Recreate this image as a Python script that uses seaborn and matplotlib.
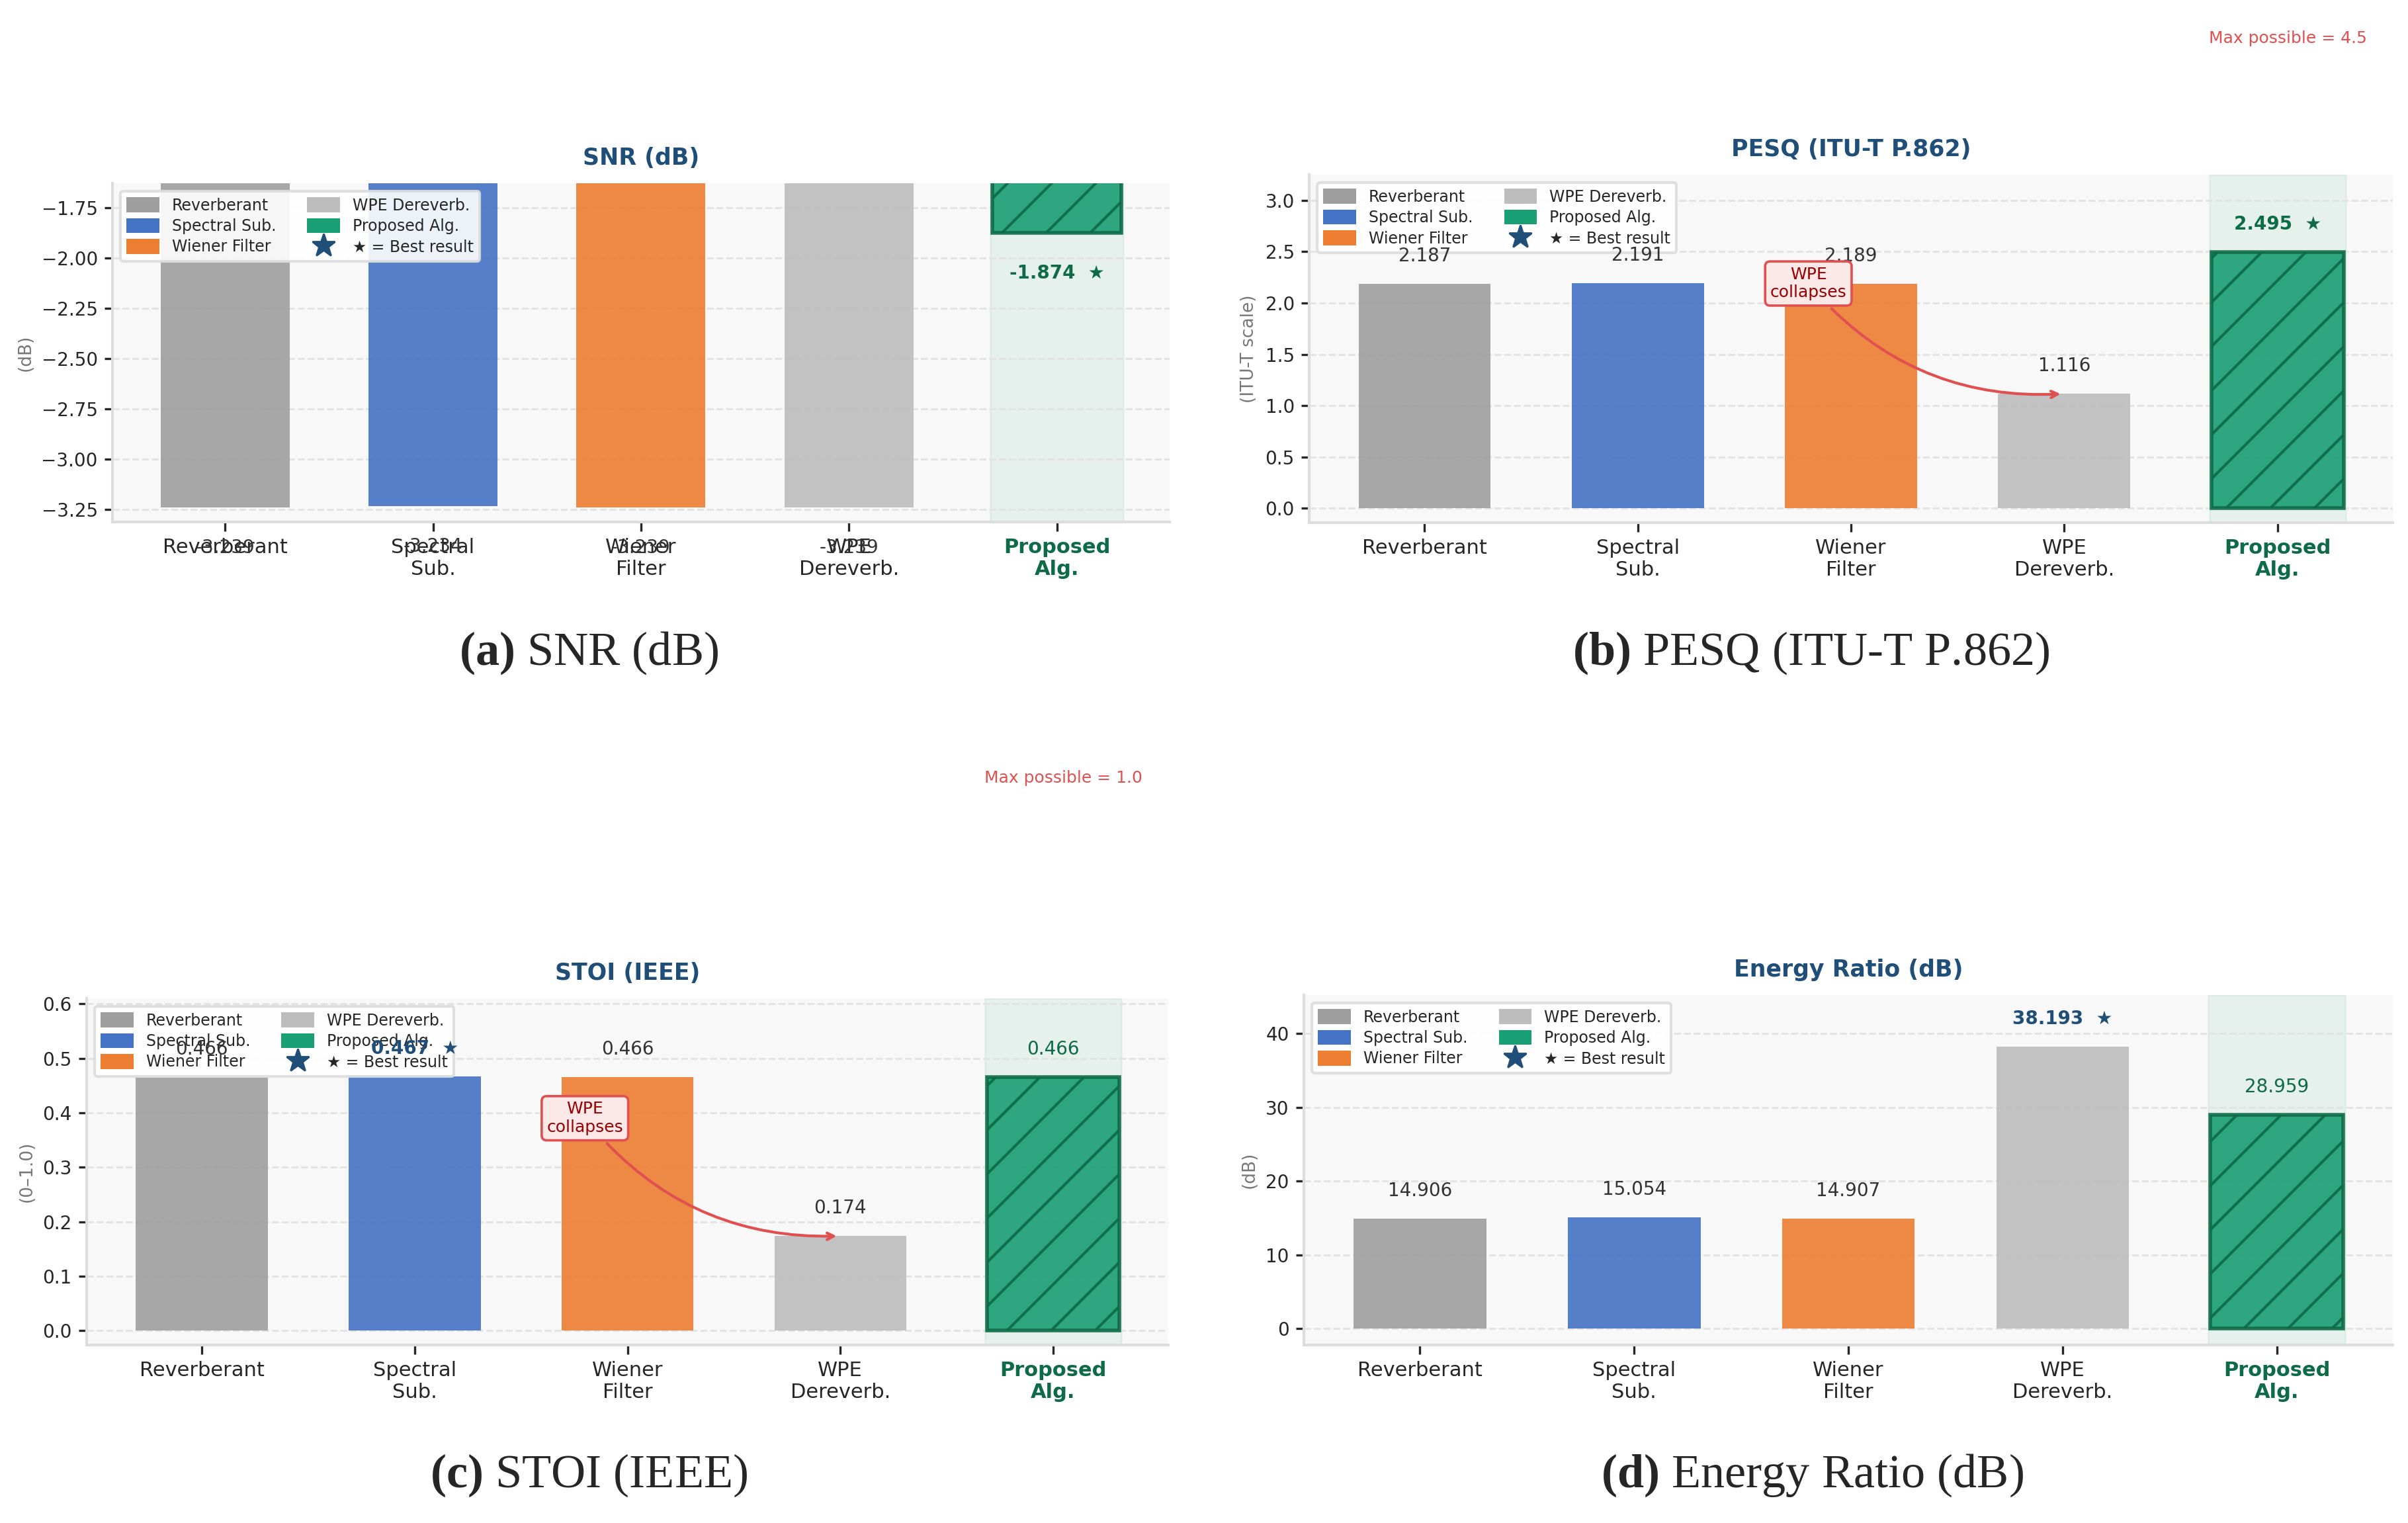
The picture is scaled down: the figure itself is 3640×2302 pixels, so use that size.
import numpy as np
import pandas as pd
import seaborn as sns
import matplotlib.pyplot as plt
from matplotlib.patches import Patch
from matplotlib.lines import Line2D
from matplotlib.ticker import MultipleLocator

# ---- data ----
methods = ["Reverberant", "Spectral Sub.", "Wiener Filter", "WPE Dereverb.", "Proposed Alg."]
tick_labels = ["Reverberant", "Spectral\nSub.", "Wiener\nFilter", "WPE\nDereverb.", "Proposed\nAlg."]
snr_db = [-3.239, -3.234, -3.239, -3.239, -1.874]
pesq = [2.187, 2.191, 2.189, 1.116, 2.495]
stoi = [0.466, 0.467, 0.466, 0.174, 0.466]
energy_ratio = [14.906, 15.054, 14.907, 38.193, 28.959]

titles = ["SNR (dB)", "PESQ (ITU-T P.862)", "STOI (IEEE)", "Energy Ratio (dB)"]
ylabels = ["(dB)", "(ITU-T scale)", "(0\u20131.0)", "(dB)"]
captions = [r"$\mathbf{(a)}$ SNR (dB)", r"$\mathbf{(b)}$ PESQ (ITU-T P.862)",
            r"$\mathbf{(c)}$ STOI (IEEE)", r"$\mathbf{(d)}$ Energy Ratio (dB)"]
max_possible = [None, 4.5, 1.0, None]
collapse_y = [None, 2.19, 0.39, None]
ytick_step = [0.25, None, None, None]

# ---- style ----
colors = ["#9e9e9e", "#4472c4", "#ed7d31", "#bdbdbd", "#1a9e74"]
green_dark = "#0d6b47"
blue_dark = "#1f4e79"
red = "#e05050"

sns.set_style("ticks")
plt.rcParams["font.family"] = "DejaVu Sans"
plt.rcParams["hatch.linewidth"] = 1.5
plt.rcParams["mathtext.fontset"] = "custom"
plt.rcParams["mathtext.rm"] = "Liberation Serif"
plt.rcParams["mathtext.bf"] = "Liberation Serif:bold"

fig = plt.figure(figsize=(18.2, 11.51), dpi=200)
positions = [[0.0467, 0.6573, 0.4390, 0.2224],
             [0.5437, 0.6568, 0.4500, 0.2285],
             [0.0360, 0.1169, 0.4492, 0.2276],
             [0.5415, 0.1169, 0.4522, 0.2298]]
ylims = [(-3.3125, -1.628), (-0.14, 3.25), (-0.026, 0.61), (-2.2, 45.2)]
caption_xy = [(0.2445, 0.571), (0.752, 0.571), (0.2445, 0.0313), (0.7525, 0.0313)]

all_vals = [snr_db, pesq, stoi, energy_ratio]

for k, vals in enumerate(all_vals):
    ax = fig.add_axes(positions[k])
    ax.set_facecolor("#f8f8f8")
    df = pd.DataFrame({"method": methods, "value": vals})
    ax.axvspan(4 - 0.32, 4 + 0.32, color=colors[4], alpha=0.08, lw=1, zorder=0)
    sns.barplot(data=df, x="method", y="value", hue="method", order=methods,
                hue_order=methods, palette=colors, saturation=1, width=0.62,
                alpha=0.9, legend=False, ax=ax, zorder=2, edgecolor="none")
    prop_bar = ax.containers[4][0]
    prop_bar.set_hatch("/")
    prop_bar.set_edgecolor(green_dark)
    prop_bar.set_linewidth(2)

    ax.set_xlim(-0.541, 4.541)
    ax.set_ylim(*ylims[k])
    if ytick_step[k] is not None:
        ax.yaxis.set_major_locator(MultipleLocator(ytick_step[k]))
    rng = ylims[k][1] - ylims[k][0]

    best = int(np.argmax(vals))
    for i, v in enumerate(vals):
        txt = f"{v:.3f}  \u2605" if i == best else f"{v:.3f}"
        if i == best:
            col = green_dark if i == 4 else blue_dark
        else:
            col = green_dark if i == 4 else "#333333"
        y = v + 0.08 * rng if v >= 0 else v - 0.12 * rng
        ax.text(i, y, txt, ha="center", va="center", fontsize=10, color=col,
                fontweight="bold" if i == best else "normal", zorder=7)

    if max_possible[k] is not None:
        ax.text(4.42, max_possible[k], f"Max possible = {max_possible[k]}",
                ha="right", va="bottom", fontsize=9, color=red, clip_on=False)

    if collapse_y[k] is not None:
        ax.annotate("WPE\ncollapses", xy=(3, vals[3]), xytext=(1.8, collapse_y[k]),
                    ha="center", va="center", fontsize=9, color="#9b0000", zorder=8,
                    bbox=dict(boxstyle="round,pad=0.3", fc="#fde8e8", ec=red, lw=1.3),
                    arrowprops=dict(arrowstyle="->", color=red, lw=1.5,
                                    connectionstyle="arc3,rad=0.25"))

    ax.set_title(titles[k], fontsize=12.5, fontweight="bold", color=blue_dark, pad=10)
    ax.set_xlabel("")
    ax.set_ylabel(ylabels[k], fontsize=9.5, color="#777777")
    ax.set_xticks(range(len(methods)))
    ax.set_xticklabels(tick_labels, fontsize=11)
    lab = ax.get_xticklabels()[-1]
    lab.set_color(green_dark)
    lab.set_fontweight("bold")
    ax.tick_params(axis="y", labelsize=10, length=4.5, width=1.2)
    ax.tick_params(axis="x", length=5, width=1.2)

    ax.yaxis.grid(True, linestyle="--", color="#e2e2e2", lw=1)
    ax.xaxis.grid(False)
    ax.set_axisbelow(True)
    for s in ["top", "right"]:
        ax.spines[s].set_visible(False)
    for s in ["left", "bottom"]:
        ax.spines[s].set_color("#dddddd")
        ax.spines[s].set_linewidth(1.5)

    handles = [Patch(facecolor=c, edgecolor="none", label=m) for c, m in zip(colors, methods)]
    handles.append(Line2D([], [], marker="*", color=blue_dark, ls="none",
                          markersize=13, label="\u2605 = Best result"))
    leg = ax.legend(handles=handles, loc="upper left", ncol=2, fontsize=8.5,
                    framealpha=0.9, edgecolor="#dddddd", fancybox=True,
                    handleheight=1.1, handlelength=2.1, labelspacing=0.3)
    leg.get_frame().set_linewidth(1.5)
    leg.set_zorder(5)

    fig.text(caption_xy[k][0], caption_xy[k][1], captions[k], ha="center", va="center",
             fontsize=26, family="Liberation Serif")

fig.savefig("out.png", dpi=200, facecolor="white")
